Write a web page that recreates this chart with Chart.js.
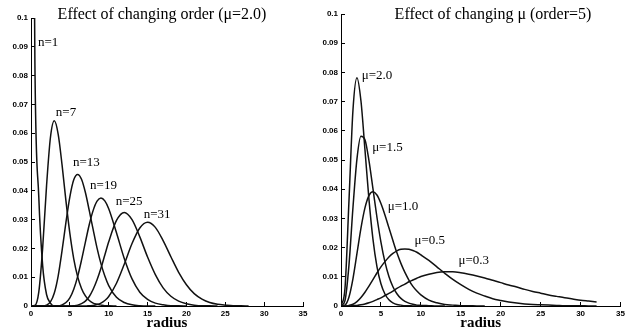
<!DOCTYPE html>
<html>
<head>
<meta charset="utf-8">
<script src="https://cdn.jsdelivr.net/npm/chart.js@4/dist/chart.umd.min.js"></script>
<style>
  html, body { margin: 0; padding: 0; background: #fff; }
  #wrap { position: relative; width: 632px; height: 329px; }
  .panel { position: absolute; top: 0; width: 316px; height: 329px; }
  #left { left: 0; }
  #right { left: 316px; }
</style>
</head>
<body>
<div id="wrap">
  <div class="panel" id="left"><canvas id="orderChart"></canvas></div>
  <div class="panel" id="right"><canvas id="muChart"></canvas></div>
</div>
<script>
// radius samples, finer near the origin where the kernels are sharp
const radius = [0, 0.5, 1, 1.5, 2, 2.5, 3, 3.5, 4, 4.5, 5, 5.5, 6, 6.5, 7, 7.5, 8, 8.5, 9, 9.5, 10,
    11, 12, 13, 14, 15, 16, 17, 18, 19, 20, 21, 22, 23, 24, 25, 26, 27, 28, 29, 30, 31, 32];

const xTicks = [0, 5, 10, 15, 20, 25, 30, 35];
const yTicks = [0, 0.01, 0.02, 0.03, 0.04, 0.05, 0.06, 0.07, 0.08, 0.09, 0.1];

// left panel: changing order, mu = 2.0
const orderLabels = ['n=1', 'n=7', 'n=13', 'n=19', 'n=25', 'n=31'];
const n1 = [0.3, 0.085, 0.038, 0.014, 0.004, 0.001, 0, 0, 0];
const n7 = [0, 0.0002, 0.0048, 0.0202, 0.0417, 0.0585, 0.0643, 0.0596, 0.0489, 0.0364, 0.0252,
    0.0164, 0.0102, 0.0061, 0.0035, 0.0019, 0.001, 0.0006, 0.0003, 0.0001, 0.0001, 0];
const n13 = [0, 0, 0, 0, 0.0003, 0.0014, 0.0045, 0.0105, 0.0193, 0.0291, 0.0379,
    0.0438, 0.0457, 0.044, 0.0394, 0.0331, 0.0265, 0.0201, 0.0147, 0.0104, 0.0071,
    0.003, 0.0012, 0.0004, 0.0001, 0, 0];
const n19 = [0, 0, 0, 0, 0, 0, 0, 0, 0.0004, 0.0012, 0.0028,
    0.0058, 0.0102, 0.0159, 0.0222, 0.0283, 0.0332, 0.0364, 0.0375, 0.0365, 0.0338,
    0.0254, 0.0165, 0.0094, 0.0048, 0.0023, 0.001, 0.0004, 0.0001, 0.0001, 0];
const n25 = [0, 0, 0, 0, 0, 0, 0, 0, 0, 0, 0,
    0.0001, 0.0003, 0.0008, 0.0017, 0.0033, 0.0058, 0.0091, 0.0131, 0.0177, 0.0223,
    0.0297, 0.0325, 0.03, 0.024, 0.017, 0.0109, 0.0063, 0.0034, 0.0017, 0.0008,
    0.0003, 0.0001, 0.0001, 0];
const n31 = [0, 0, 0, 0, 0, 0, 0, 0, 0, 0, 0,
    0, 0, 0, 0, 0.0001, 0.0002, 0.0005, 0.001, 0.0019, 0.0033,
    0.0079, 0.0145, 0.0217, 0.0271, 0.0291, 0.0273, 0.0227, 0.0171, 0.0117, 0.0074,
    0.0043, 0.0024, 0.0012, 0.0006, 0.0003, 0.0001, 0.0001, 0];
// where each curve label sits (radius, value)
const orderLabelX = [0.9, 3.2, 5.4, 7.6, 10.9, 14.5];
const orderLabelY = [0.0913, 0.067, 0.0497, 0.0417, 0.0361, 0.0316];

// right panel: changing mu, order = 5
const muLabels = ['\u03bc=2.0', '\u03bc=1.5', '\u03bc=1.0', '\u03bc=0.5', '\u03bc=0.3'];
const mu20 = [0, 0.0061, 0.0361, 0.0672, 0.0782, 0.0702, 0.0535, 0.0365, 0.0229, 0.0135, 0.0076,
    0.0041, 0.0021, 0.0011, 0.0005, 0.0003, 0.0001, 0.0001, 0, 0, 0];
const mu15 = [0, 0.0019, 0.0141, 0.0338, 0.0504, 0.0581, 0.0569, 0.0498, 0.0402, 0.0304, 0.0219,
    0.0151, 0.0101, 0.0066, 0.0042, 0.0026, 0.0016, 0.001, 0.0006, 0.0003, 0.0002,
    0.0001, 0, 0];
const mu10 = [0, 0.0003, 0.0031, 0.0094, 0.018, 0.0267, 0.0336, 0.0378, 0.0391, 0.038, 0.0351,
    0.0312, 0.0268, 0.0224, 0.0182, 0.0146, 0.0115, 0.0089, 0.0067, 0.0051, 0.0038,
    0.002, 0.0011, 0.0005, 0.0003, 0.0001, 0.0001, 0, 0];
const mu05 = [0, 0, 0.0002, 0.0006, 0.0015, 0.0029, 0.0047, 0.0068, 0.009, 0.0113, 0.0134,
    0.0152, 0.0168, 0.018, 0.0189, 0.0194, 0.0195, 0.0194, 0.019, 0.0184, 0.0175,
    0.0156, 0.0134, 0.0112, 0.0091, 0.0073, 0.0057, 0.0044, 0.0034, 0.0025, 0.0019,
    0.0014, 0.001, 0.0007, 0.0005, 0.0004, 0.0003, 0.0002, 0.0001, 0.0001, 0.0001, 0, 0];
const mu03 = [0, 0, 0, 0.0001, 0.0002, 0.0004, 0.0007, 0.0011, 0.0016, 0.0022, 0.0028,
    0.0036, 0.0043, 0.0051, 0.006, 0.0068, 0.0075, 0.0083, 0.0089, 0.0095, 0.0101,
    0.0109, 0.0115, 0.0117, 0.0117, 0.0114, 0.0109, 0.0103, 0.0096, 0.0088, 0.008,
    0.0072, 0.0065, 0.0057, 0.005, 0.0044, 0.0038, 0.0033, 0.0028, 0.0024, 0.002,
    0.0017, 0.0014];
const muLabelX = [2.6, 3.9, 5.85, 9.2, 14.7];
const muLabelY = [0.079, 0.0544, 0.034, 0.0225, 0.0157];

function toPoints(values) {
    return values.map((v, i) => ({ x: radius[i], y: v }));
}

function makeChart(id, p) {
    // title and curve names are drawn by hand so they can overlap the plot like the original
    const textPlugin = {
        id: 'panelText',
        afterDatasetsDraw(chart) {
            const { ctx, scales } = chart;
            ctx.save();
            ctx.fillStyle = '#000';
            ctx.textBaseline = 'middle';
            ctx.font = '16px "Liberation Serif"';
            ctx.textAlign = 'center';
            ctx.fillText(p.title, p.titleX, 15);
            ctx.font = '13px "Liberation Serif"';
            ctx.textAlign = 'left';
            p.labels.forEach((t, i) => {
                ctx.fillText(t, scales.x.getPixelForValue(p.labelX[i]), scales.y.getPixelForValue(p.labelY[i]));
            });
            ctx.restore();
        }
    };

    const tickFont = { family: '"Liberation Sans"', size: 8, weight: 'bold' };
    return new Chart(document.getElementById(id), {
        type: 'line',
        data: {
            datasets: p.series.map(s => ({
                data: toPoints(s),
                borderColor: '#111',
                borderWidth: 1.5,
                pointRadius: 0,
                fill: false,
                cubicInterpolationMode: 'monotone'
            }))
        },
        options: {
            responsive: true,
            maintainAspectRatio: false,
            animation: false,
            layout: { padding: p.padding },
            plugins: { legend: { display: false }, tooltip: { enabled: false } },
            scales: {
                x: {
                    type: 'linear', min: 0, max: 35,
                    afterBuildTicks: s => { s.ticks = xTicks.map(v => ({ value: v })); },
                    afterFit: s => { s.height = 23; },
                    grid: { drawOnChartArea: false, tickLength: -4, color: '#000' },
                    border: { color: '#000', width: 1 },
                    ticks: { font: tickFont, color: '#000', padding: 7, maxRotation: 0, callback: v => String(v) },
                    title: {
                        display: true, text: 'radius', color: '#000',
                        font: { family: '"Liberation Serif"', size: 15, weight: 'bold', lineHeight: 1 },
                        padding: { top: 0, bottom: -2 }
                    }
                },
                y: {
                    type: 'linear', min: 0, max: 0.1,
                    afterBuildTicks: s => { s.ticks = yTicks.map(v => ({ value: v })); },
                    afterFit: s => { s.width = p.yWidth; },
                    grid: { drawOnChartArea: false, tickLength: -4, color: '#000' },
                    border: { color: '#000', width: 1 },
                    ticks: { font: tickFont, color: '#000', padding: 7, callback: v => String(v) }
                }
            }
        },
        plugins: [textPlugin]
    });
}

makeChart('orderChart', {
    title: 'Effect of changing order (\u03bc=2.0)', titleX: 162,
    series: [n1, n7, n13, n19, n25, n31],
    labels: orderLabels, labelX: orderLabelX, labelY: orderLabelY,
    padding: { left: 0, right: 13, top: 18, bottom: 0 }, yWidth: 31
});

makeChart('muChart', {
    title: 'Effect of changing \u03bc (order=5)', titleX: 177,
    series: [mu20, mu15, mu10, mu05, mu03],
    labels: muLabels, labelX: muLabelX, labelY: muLabelY,
    padding: { left: 0, right: 10, top: 14, bottom: 0 }, yWidth: 25
});
</script>
</body>
</html>
